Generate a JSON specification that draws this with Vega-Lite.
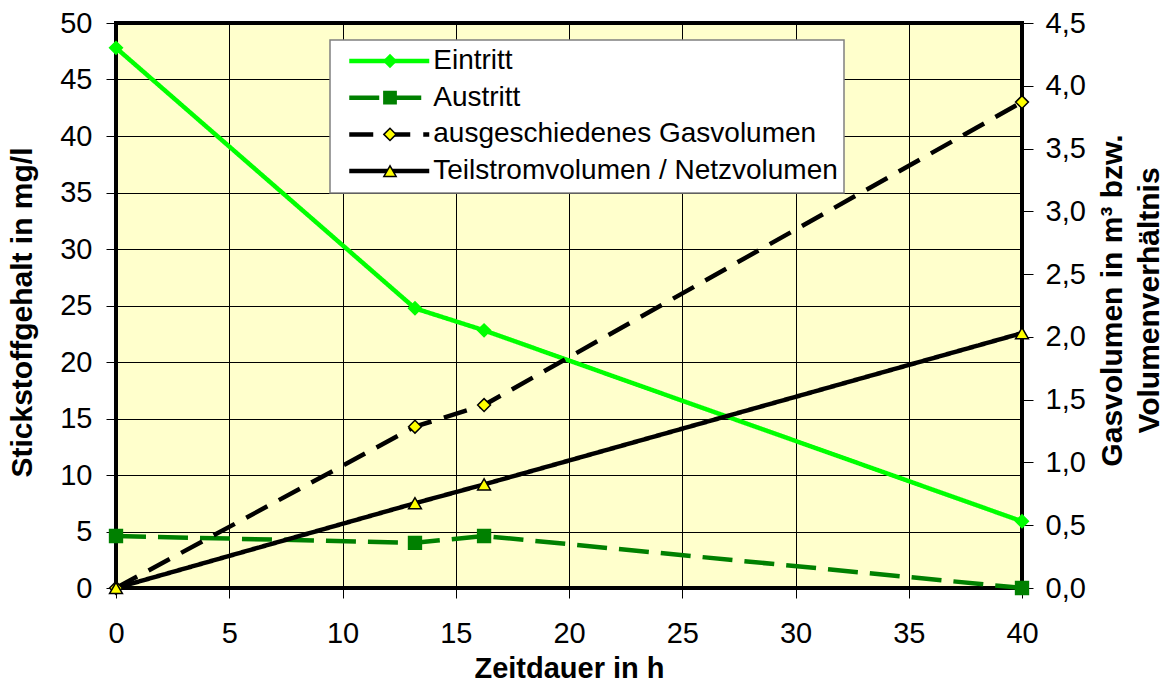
{
  "$schema": "https://vega.github.io/schema/vega-lite/v6.json",
  "width": 906,
  "height": 565,
  "autosize": {"type": "none"},
  "padding": {"left": 116, "top": 23, "right": 146, "bottom": 96},
  "background": "#FFFFFF",
  "config": {
    "locale": {"number": {"decimal": ",", "thousands": ".", "grouping": [3], "currency": ["", " €"]}},
    "font": "Liberation Sans",
    "view": {"fill": "#FFFFCC", "stroke": "#000000", "strokeWidth": 4},
    "legend": {"strokeWidth": 1.5},
    "axis": {
      "labelFont": "Liberation Sans", "labelFontSize": 29, "labelColor": "#000000", "labelFlush": false, "labelOverlap": false,
      "titleFont": "Liberation Sans", "titleFontSize": 30, "titleFontWeight": "bold", "titleColor": "#000000",
      "domain": false, "tickColor": "#000000", "tickWidth": 1, "tickSize": 10,
      "gridColor": "#000000", "gridWidth": 1, "gridOpacity": 1
    }
  },
  "datasets": {
    "n": [
      {"h": 0, "v": 47.8, "s": "Eintritt"},
      {"h": 13.2, "v": 24.75, "s": "Eintritt"},
      {"h": 16.25, "v": 22.8, "s": "Eintritt"},
      {"h": 40, "v": 5.9, "s": "Eintritt"},
      {"h": 0, "v": 4.6, "s": "Austritt"},
      {"h": 13.2, "v": 4.0, "s": "Austritt"},
      {"h": 16.25, "v": 4.6, "s": "Austritt"},
      {"h": 40, "v": 0, "s": "Austritt"}
    ],
    "g": [
      {"h": 0, "v": 0, "s": "ausgeschiedenes Gasvolumen"},
      {"h": 13.2, "v": 1.285, "s": "ausgeschiedenes Gasvolumen"},
      {"h": 16.25, "v": 1.457, "s": "ausgeschiedenes Gasvolumen"},
      {"h": 40, "v": 3.87, "s": "ausgeschiedenes Gasvolumen"},
      {"h": 0, "v": 0, "s": "Teilstromvolumen / Netzvolumen"},
      {"h": 13.2, "v": 0.675, "s": "Teilstromvolumen / Netzvolumen"},
      {"h": 16.25, "v": 0.825, "s": "Teilstromvolumen / Netzvolumen"},
      {"h": 40, "v": 2.03, "s": "Teilstromvolumen / Netzvolumen"}
    ]
  },
  "layer": [
    {
      "data": {"name": "n"},
      "encoding": {
        "x": {"field": "h", "type": "quantitative", "scale": {"domain": [0, 40], "nice": false},
              "axis": {"values": [0, 5, 10, 15, 20, 25, 30, 35, 40], "title": "Zeitdauer in h", "titleFontSize": 29, "grid": true, "labelPadding": 21, "titlePadding": 6}},
        "y": {"field": "v", "type": "quantitative", "scale": {"domain": [0, 50], "nice": false},
              "axis": {"orient": "left", "values": [0, 5, 10, 15, 20, 25, 30, 35, 40, 45, 50], "title": "Stickstoffgehalt in mg/l", "grid": true, "labelPadding": 14, "titlePadding": 22, "titleY": 289}}
      },
      "layer": [
        {
          "mark": {"type": "line", "strokeWidth": 4.5, "strokeCap": "butt"},
          "encoding": {
            "color": {"field": "s", "type": "nominal",
              "scale": {"domain": ["Eintritt", "Austritt", "ausgeschiedenes Gasvolumen", "Teilstromvolumen / Netzvolumen"], "range": ["#00FF00", "#008000", "#000000", "#000000"]},
              "legend": {"orient": "none", "legendX": 214, "legendY": 17, "title": null,
                "symbolType": "M-1,0H1", "symbolSize": 6400, "symbolStrokeWidth": 4.5, "clipHeight": 30, "rowPadding": 6.7,
                "symbolOffset": 10.75, "labelOffset": 1.5, "labelExpr": "datum.label + '\u2003'",
                "labelFont": "Liberation Sans", "labelFontSize": 28, "labelColor": "#000000", "labelLimit": 700,
                "fillColor": "#FFFFFF", "strokeColor": "#808080", "padding": 6, "zindex": 1}},
            "strokeDash": {"field": "s", "type": "nominal",
              "scale": {"domain": ["Eintritt", "Austritt", "ausgeschiedenes Gasvolumen", "Teilstromvolumen / Netzvolumen"], "range": [[1, 0], [30, 12], [24, 13], [1, 0]]}}
          }
        },
        {
          "mark": {"type": "point", "filled": true, "opacity": 1, "strokeWidth": 1.5, "size": 165},
          "encoding": {
            "shape": {"field": "s", "type": "nominal",
              "scale": {"domain": ["Teilstromvolumen / Netzvolumen", "ausgeschiedenes Gasvolumen", "Austritt", "Eintritt"], "range": ["triangle-up", "diamond", "square", "diamond"]},
              "legend": {"orient": "none", "legendX": 214, "legendY": 17, "title": null,
                "values": ["Eintritt", "Austritt", "ausgeschiedenes Gasvolumen", "Teilstromvolumen / Netzvolumen"],
                "symbolSize": 150, "symbolStrokeWidth": 1.5, "clipHeight": 30, "rowPadding": 6.7,
                "symbolOffset": 40, "labelExpr": "''", "labelOpacity": 0, "labelFontSize": 28, "padding": 6, "zindex": 2}},
            "stroke": {"field": "s", "type": "nominal",
              "scale": {"domain": ["Teilstromvolumen / Netzvolumen", "ausgeschiedenes Gasvolumen", "Austritt", "Eintritt"], "range": ["#000000", "#000000", "#008000", "#00FF00"]}},
            "fill": {"field": "s", "type": "nominal",
              "scale": {"domain": ["Teilstromvolumen / Netzvolumen", "ausgeschiedenes Gasvolumen", "Austritt", "Eintritt"], "range": ["#FFFF00", "#FFFF00", "#008000", "#00FF00"]}}
          }
        }
      ]
    },
    {
      "data": {"name": "g"},
      "encoding": {
        "x": {"field": "h", "type": "quantitative", "scale": {"domain": [0, 40], "nice": false},
              "axis": {"values": [0, 5, 10, 15, 20, 25, 30, 35, 40], "title": "Zeitdauer in h", "titleFontSize": 29, "grid": true, "labelPadding": 21, "titlePadding": 6}},
        "y": {"field": "v", "type": "quantitative", "scale": {"domain": [0, 4.5], "nice": false},
              "axis": {"orient": "right", "values": [0, 0.5, 1, 1.5, 2, 2.5, 3, 3.5, 4, 4.5], "format": ".1f",
                       "title": ["Gasvolumen in m³ bzw.", "Volumenverhältnis"], "titleAngle": 270, "titleBaseline": "alphabetic", "titleLineHeight": 37,
                       "titleX": 99, "titleY": 277,
                       "grid": false, "tickSize": 11, "labelPadding": 12}}
      },
      "layer": [
        {
          "mark": {"type": "line", "strokeWidth": 4.5, "strokeCap": "butt"},
          "encoding": {
            "color": {"field": "s", "type": "nominal",
              "scale": {"domain": ["Eintritt", "Austritt", "ausgeschiedenes Gasvolumen", "Teilstromvolumen / Netzvolumen"], "range": ["#00FF00", "#008000", "#000000", "#000000"]},
              "legend": {"orient": "none", "legendX": 214, "legendY": 17, "title": null,
                "symbolType": "M-1,0H1", "symbolSize": 6400, "symbolStrokeWidth": 4.5, "clipHeight": 30, "rowPadding": 6.7,
                "symbolOffset": 10.75, "labelOffset": 1.5, "labelExpr": "datum.label + '\u2003'",
                "labelFont": "Liberation Sans", "labelFontSize": 28, "labelColor": "#000000", "labelLimit": 700,
                "fillColor": "#FFFFFF", "strokeColor": "#808080", "padding": 6, "zindex": 1}},
            "strokeDash": {"field": "s", "type": "nominal",
              "scale": {"domain": ["Eintritt", "Austritt", "ausgeschiedenes Gasvolumen", "Teilstromvolumen / Netzvolumen"], "range": [[1, 0], [30, 12], [24, 13], [1, 0]]}}
          }
        },
        {
          "mark": {"type": "point", "filled": true, "opacity": 1, "strokeWidth": 1.5, "size": 165},
          "encoding": {
            "shape": {"field": "s", "type": "nominal",
              "scale": {"domain": ["Teilstromvolumen / Netzvolumen", "ausgeschiedenes Gasvolumen", "Austritt", "Eintritt"], "range": ["triangle-up", "diamond", "square", "diamond"]},
              "legend": {"orient": "none", "legendX": 214, "legendY": 17, "title": null,
                "values": ["Eintritt", "Austritt", "ausgeschiedenes Gasvolumen", "Teilstromvolumen / Netzvolumen"],
                "symbolSize": 150, "symbolStrokeWidth": 1.5, "clipHeight": 30, "rowPadding": 6.7,
                "symbolOffset": 40, "labelExpr": "''", "labelOpacity": 0, "labelFontSize": 28, "padding": 6, "zindex": 2}},
            "stroke": {"field": "s", "type": "nominal",
              "scale": {"domain": ["Teilstromvolumen / Netzvolumen", "ausgeschiedenes Gasvolumen", "Austritt", "Eintritt"], "range": ["#000000", "#000000", "#008000", "#00FF00"]}},
            "fill": {"field": "s", "type": "nominal",
              "scale": {"domain": ["Teilstromvolumen / Netzvolumen", "ausgeschiedenes Gasvolumen", "Austritt", "Eintritt"], "range": ["#FFFF00", "#FFFF00", "#008000", "#00FF00"]}}
          }
        }
      ]
    }
  ],
  "resolve": {"scale": {"y": "independent"}}
}
